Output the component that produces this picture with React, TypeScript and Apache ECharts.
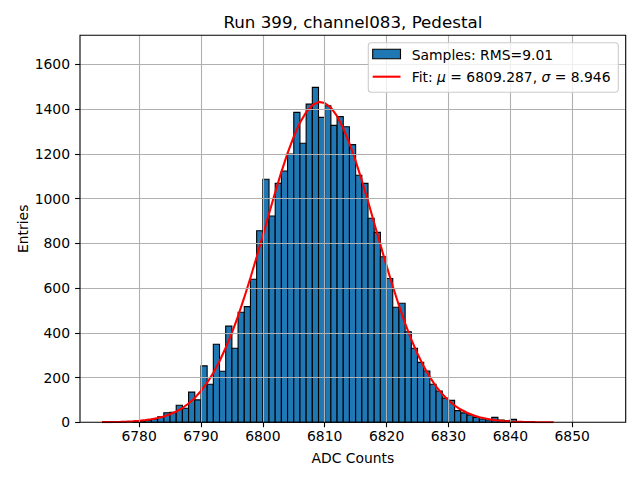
import React, { useEffect, useRef } from "react";
import * as echarts from "echarts";

const binLow = [
  6779, 6780, 6781, 6782, 6783, 6784, 6785, 6786, 6787, 6788, 6789, 6790, 6791, 6792, 6793, 6794,
  6795, 6796, 6797, 6798, 6799, 6800, 6801, 6802, 6803, 6804, 6805, 6806, 6807, 6808, 6809, 6810,
  6811, 6812, 6813, 6814, 6815, 6816, 6817, 6818, 6819, 6820, 6821, 6822, 6823, 6824, 6825, 6826,
  6827, 6828, 6829, 6830, 6831, 6832, 6833, 6834, 6835, 6836, 6837, 6838, 6839, 6840, 6841, 6842,
];
const counts = [
  1, 3, 8, 15, 25, 43, 45, 76, 63, 135, 100, 252, 170, 349, 228, 430,
  331, 492, 517, 639, 856, 1086, 922, 1068, 1123, 1199, 1385, 1247, 1422, 1497, 1363, 1415,
  1327, 1366, 1321, 1241, 1104, 1068, 912, 849, 740, 643, 514, 532, 405, 331, 268, 229,
  170, 140, 108, 98, 52, 42, 33, 22, 15, 10, 22, 10, 8, 13, 3, 1,
];
const binWidth = 1;

const fitX = [
  6774, 6775, 6776, 6777, 6778, 6779, 6780, 6781, 6782, 6783, 6784, 6785, 6786, 6787, 6788, 6789,
  6790, 6791, 6792, 6793, 6794, 6795, 6796, 6797, 6798, 6799, 6800, 6801, 6802, 6803, 6804, 6805,
  6806, 6807, 6808, 6809, 6810, 6811, 6812, 6813, 6814, 6815, 6816, 6817, 6818, 6819, 6820, 6821,
  6822, 6823, 6824, 6825, 6826, 6827, 6828, 6829, 6830, 6831, 6832, 6833, 6834, 6835, 6836, 6837,
  6838, 6839, 6840, 6841, 6842, 6843, 6844, 6845, 6846, 6847,
];
const fitY = [
  0.6, 0.9, 1.4, 2.1, 3.2, 4.6, 6.7, 9.6, 13.7, 19.1, 26.3, 35.9, 48, 64, 84, 109,
  140, 177, 221, 273, 333, 400, 475, 558, 646, 739, 835, 932, 1028, 1119, 1203, 1277,
  1339, 1386, 1417, 1432, 1427, 1406, 1368, 1314, 1246, 1168, 1081, 988, 891, 794, 699, 608,
  522, 442, 370, 306, 250, 202, 160, 126, 98, 75, 57, 42.7, 31.5, 23, 16.6, 11.8,
  8.3, 5.8, 3.9, 2.7, 1.8, 1.2, 0.8, 0.5, 0.3, 0.2,
];

const xTicks = [6780, 6790, 6800, 6810, 6820, 6830, 6840, 6850];
const yTicks = [0, 200, 400, 600, 800, 1000, 1200, 1400, 1600];

const titleText = "Run 399, channel083, Pedestal";
const xLabel = "ADC Counts";
const yLabel = "Entries";
const histLegend = "Samples: RMS=9.01";
const fitMu = "6809.287";
const fitSigma = "8.946";

export default function App() {
  const ref = useRef<HTMLDivElement>(null);
  useEffect(() => {
    document.body.style.margin = "0";
    const chart = echarts.init(ref.current!, null, { renderer: "svg" });
    const font = "DejaVu Sans";
    const L = 80, T = 35.3, W = 545.7, H = 387;
    const fs = 13.9;
    chart.setOption({
      animation: false,
      backgroundColor: "#ffffff",
      textStyle: { fontFamily: font },
      grid: { left: L, top: T, width: W, height: H, containLabel: false },
      xAxis: {
        type: "value",
        min: 6770.45,
        max: 6858.65,
        axisLine: { show: false },
        axisTick: { show: true, customValues: xTicks, length: 4.9, lineStyle: { color: "#000", width: 1.1 } },
        axisLabel: {
          customValues: xTicks,
          margin: 7,
          color: "#000",
          fontSize: fs,
          fontFamily: font,
          formatter: (v: number) => String(v),
        },
        splitLine: { show: false },
      },
      yAxis: {
        type: "value",
        min: 0,
        max: 1729.6,
        axisLine: { show: false },
        axisTick: { show: true, customValues: yTicks, length: 4.9, lineStyle: { color: "#000", width: 1.1 } },
        axisLabel: {
          customValues: yTicks,
          margin: 10,
          color: "#000",
          fontSize: fs,
          fontFamily: font,
          formatter: (v: number) => String(v),
        },
        splitLine: { show: false },
      },
      series: [
        {
          type: "custom",
          z: 1,
          silent: true,
          encode: { x: [0, 1], y: 2 },
          data: binLow.map((b, i) => [b, b + binWidth, counts[i]]),
          renderItem: (params: any, api: any) => {
            const p0 = api.coord([api.value(0), api.value(2)]);
            const p1 = api.coord([api.value(1), 0]);
            return {
              type: "rect",
              shape: { x: p0[0], y: p0[1], width: p1[0] - p0[0], height: p1[1] - p0[1] },
              style: { fill: "#1f77b4", stroke: "#000000", lineWidth: 1.1 },
            };
          },
        },
        {
          type: "line",
          z: 2,
          data: [],
          silent: true,
          markLine: {
            silent: true,
            symbol: ["none", "none"],
            label: { show: false },
            lineStyle: { color: "#b0b0b0", width: 1.1, type: "solid" },
            emphasis: { disabled: true },
            data: [
              ...xTicks.map((v) => ({ xAxis: v })),
              ...yTicks.filter((v) => v > 0).map((v) => ({ yAxis: v })),
            ],
          },
        },
        {
          type: "line",
          z: 3,
          silent: true,
          data: fitX.map((x, i) => [x, fitY[i]]),
          showSymbol: false,
          symbol: "none",
          lineStyle: { color: "#ff0000", width: 2.1 },
          itemStyle: { color: "#ff0000" },
        },
      ],
      graphic: [
        {
          type: "rect",
          z: 100,
          silent: true,
          shape: { x: L, y: T, width: W, height: H },
          style: { fill: "none", stroke: "#000000", lineWidth: 1.1 },
        },
        {
          type: "text",
          z: 100,
          x: L + W / 2,
          y: 21.5,
          style: { text: titleText, fill: "#000", font: `16.7px ${font}`, textAlign: "center", textVerticalAlign: "middle" },
        },
        {
          type: "text",
          z: 100,
          x: L + W / 2,
          y: 457.5,
          style: { text: xLabel, fill: "#000", font: `${fs}px ${font}`, textAlign: "center", textVerticalAlign: "middle" },
        },
        {
          type: "text",
          z: 100,
          x: 22.5,
          y: T + H / 2,
          rotation: Math.PI / 2,
          style: { text: yLabel, fill: "#000", font: `${fs}px ${font}`, textAlign: "center", textVerticalAlign: "middle" },
        },
        {
          type: "rect",
          z: 100,
          shape: { x: 368.3, y: 42.7, width: 250, height: 49.6, r: 3 },
          style: { fill: "rgba(255,255,255,0.8)", stroke: "#cccccc", lineWidth: 1.1 },
        },
        {
          type: "rect",
          z: 101,
          shape: { x: 372.7, y: 49.3, width: 27.8, height: 9.4 },
          style: { fill: "#1f77b4", stroke: "#000000", lineWidth: 1.1 },
        },
        {
          type: "line",
          z: 101,
          shape: { x1: 372.7, y1: 76.7, x2: 400.5, y2: 76.7 },
          style: { stroke: "#ff0000", lineWidth: 2.1 },
        },
        {
          type: "text",
          z: 101,
          x: 411.7,
          y: 54.5,
          style: { text: histLegend, fill: "#000", font: `${fs}px ${font}`, textAlign: "left", textVerticalAlign: "middle" },
        },
        {
          type: "text",
          z: 101,
          x: 411.7,
          y: 77,
          style: {
            text: `Fit: {i|μ} = ${fitMu}, {i|σ} = ${fitSigma}`,
            fill: "#000",
            font: `${fs}px ${font}`,
            fontFamily: font,
            fontSize: fs,
            textAlign: "left",
            textVerticalAlign: "middle",
            rich: { i: { fontStyle: "italic", fontFamily: font, fontSize: fs, fill: "#000" } },
          },
        },
      ],
    });
    return () => chart.dispose();
  }, []);
  return <div ref={ref} style={{ position: "absolute", left: 0, top: 0, width: 640, height: 480 }} />;
}
